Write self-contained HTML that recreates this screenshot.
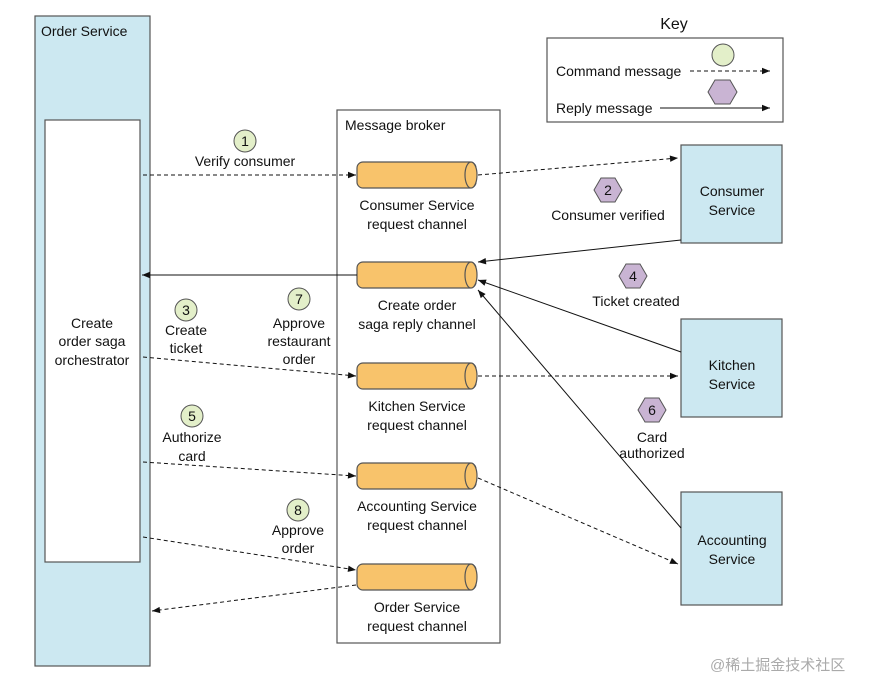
<!DOCTYPE html>
<html><head><meta charset="utf-8"><style>
html,body{margin:0;padding:0;background:#fff}
svg{display:block}
text{font-family:"Liberation Sans",sans-serif;font-size:14px;fill:#111}
</style></head><body>
<svg width="873" height="681" viewBox="0 0 873 681" xmlns="http://www.w3.org/2000/svg">
<defs>
<marker id="a" viewBox="0 0 10 10" refX="10" refY="5" markerWidth="10" markerHeight="8" orient="auto" markerUnits="userSpaceOnUse"><path d="M0,1 L10,5 L0,9 z" fill="#111"/></marker>
<g id="cyl"><rect x="0" y="0" width="119" height="26" rx="6" fill="#f8c36b" stroke="#555" stroke-width="1.2"/><ellipse cx="114" cy="13" rx="6" ry="13" fill="#f8c36b" stroke="#555" stroke-width="1.2"/></g>
</defs>
<rect width="873" height="681" fill="#fff"/>
<rect x="35" y="16" width="115" height="650" fill="#cce8f1" stroke="#555" stroke-width="1.2"/>
<text x="41" y="36">Order Service</text>
<rect x="45" y="120" width="95" height="442" fill="#fff" stroke="#555" stroke-width="1.2"/>
<text text-anchor="middle" x="92" y="328">Create</text>
<text text-anchor="middle" x="92" y="346">order saga</text>
<text text-anchor="middle" x="92" y="365">orchestrator</text>
<rect x="337" y="110" width="163" height="533" fill="#fff" stroke="#555" stroke-width="1.2"/>
<text x="345" y="130">Message broker</text>
<use href="#cyl" x="357" y="162"/>
<use href="#cyl" x="357" y="262"/>
<use href="#cyl" x="357" y="363"/>
<use href="#cyl" x="357" y="463"/>
<use href="#cyl" x="357" y="564"/>
<g text-anchor="middle">
<text x="417" y="210">Consumer Service</text><text x="417" y="229">request channel</text>
<text x="417" y="310">Create order</text><text x="417" y="329">saga reply channel</text>
<text x="417" y="411">Kitchen Service</text><text x="417" y="430">request channel</text>
<text x="417" y="511">Accounting Service</text><text x="417" y="530">request channel</text>
<text x="417" y="612">Order Service</text><text x="417" y="631">request channel</text>
</g>
<rect x="681" y="145" width="101" height="98" fill="#cce8f1" stroke="#555" stroke-width="1.2"/>
<text text-anchor="middle" x="732" y="196">Consumer</text><text text-anchor="middle" x="732" y="215">Service</text>
<rect x="681" y="319" width="101" height="98" fill="#cce8f1" stroke="#555" stroke-width="1.2"/>
<text text-anchor="middle" x="732" y="370">Kitchen</text><text text-anchor="middle" x="732" y="389">Service</text>
<rect x="681" y="492" width="101" height="113" fill="#cce8f1" stroke="#555" stroke-width="1.2"/>
<text text-anchor="middle" x="732" y="545">Accounting</text><text text-anchor="middle" x="732" y="564">Service</text>
<text text-anchor="middle" x="674" y="29" style="font-size:16px">Key</text>
<rect x="547" y="38" width="236" height="84" fill="#fff" stroke="#555" stroke-width="1.2"/>
<text x="556" y="76">Command message</text>
<text x="556" y="113">Reply message</text>
<line x1="690" y1="71" x2="770" y2="71" stroke="#111" stroke-dasharray="4,3" marker-end="url(#a)"/>
<line x1="660" y1="108" x2="770" y2="108" stroke="#111" marker-end="url(#a)"/>
<circle cx="723" cy="55" r="11" fill="#e3efc9" stroke="#555"/>
<polygon points="708,92 715,80 730,80 737,92 730,104 715,104" fill="#c9b4d3" stroke="#555"/>
<g stroke="#111" stroke-width="1" stroke-dasharray="4,3" fill="none">
<line x1="143" y1="175" x2="356" y2="175" marker-end="url(#a)"/>
<line x1="478" y1="175" x2="678" y2="158" marker-end="url(#a)"/>
<line x1="143" y1="357" x2="356" y2="376" marker-end="url(#a)"/>
<line x1="478" y1="376" x2="678" y2="376" marker-end="url(#a)"/>
<line x1="143" y1="462" x2="356" y2="476" marker-end="url(#a)"/>
<line x1="478" y1="478" x2="678" y2="564" marker-end="url(#a)"/>
<line x1="143" y1="537" x2="356" y2="570" marker-end="url(#a)"/>
<line x1="356" y1="585" x2="152" y2="611" marker-end="url(#a)"/>
</g>
<g stroke="#111" stroke-width="1" fill="none">
<line x1="681" y1="240" x2="478" y2="262" marker-end="url(#a)"/>
<line x1="357" y1="275" x2="142" y2="275" marker-end="url(#a)"/>
<line x1="681" y1="352" x2="478" y2="280" marker-end="url(#a)"/>
<line x1="681" y1="528" x2="478" y2="290" marker-end="url(#a)"/>
</g>
<g fill="#e3efc9" stroke="#555">
<circle cx="245" cy="141" r="11"/><circle cx="186" cy="310" r="11"/><circle cx="299" cy="299" r="11"/><circle cx="192" cy="416" r="11"/><circle cx="298" cy="510" r="11"/>
</g>
<g fill="#c9b4d3" stroke="#555">
<polygon points="594,190 601,178 615,178 622,190 615,202 601,202"/>
<polygon points="619,276 626,264 640,264 647,276 640,288 626,288"/>
<polygon points="638,410 645,398 659,398 666,410 659,422 645,422"/>
</g>
<g text-anchor="middle">
<text x="245" y="146">1</text><text x="186" y="315">3</text><text x="299" y="304">7</text><text x="192" y="421">5</text><text x="298" y="515">8</text>
<text x="608" y="195">2</text><text x="633" y="281">4</text><text x="652" y="415">6</text>
<text x="245" y="166">Verify consumer</text>
<text x="608" y="220">Consumer verified</text>
<text x="636" y="306">Ticket created</text>
<text x="652" y="442">Card</text><text x="652" y="458">authorized</text>
<text x="186" y="335">Create</text><text x="186" y="353">ticket</text>
<text x="299" y="328">Approve</text><text x="299" y="346">restaurant</text><text x="299" y="364">order</text>
<text x="192" y="442">Authorize</text><text x="192" y="461">card</text>
<text x="298" y="535">Approve</text><text x="298" y="553">order</text>
</g>
<text x="710" y="670" style="font-size:15px;fill:#aaa;font-family:'Liberation Sans','Noto Sans CJK SC',sans-serif">@稀土掘金技术社区</text>
</svg>
</body></html>
